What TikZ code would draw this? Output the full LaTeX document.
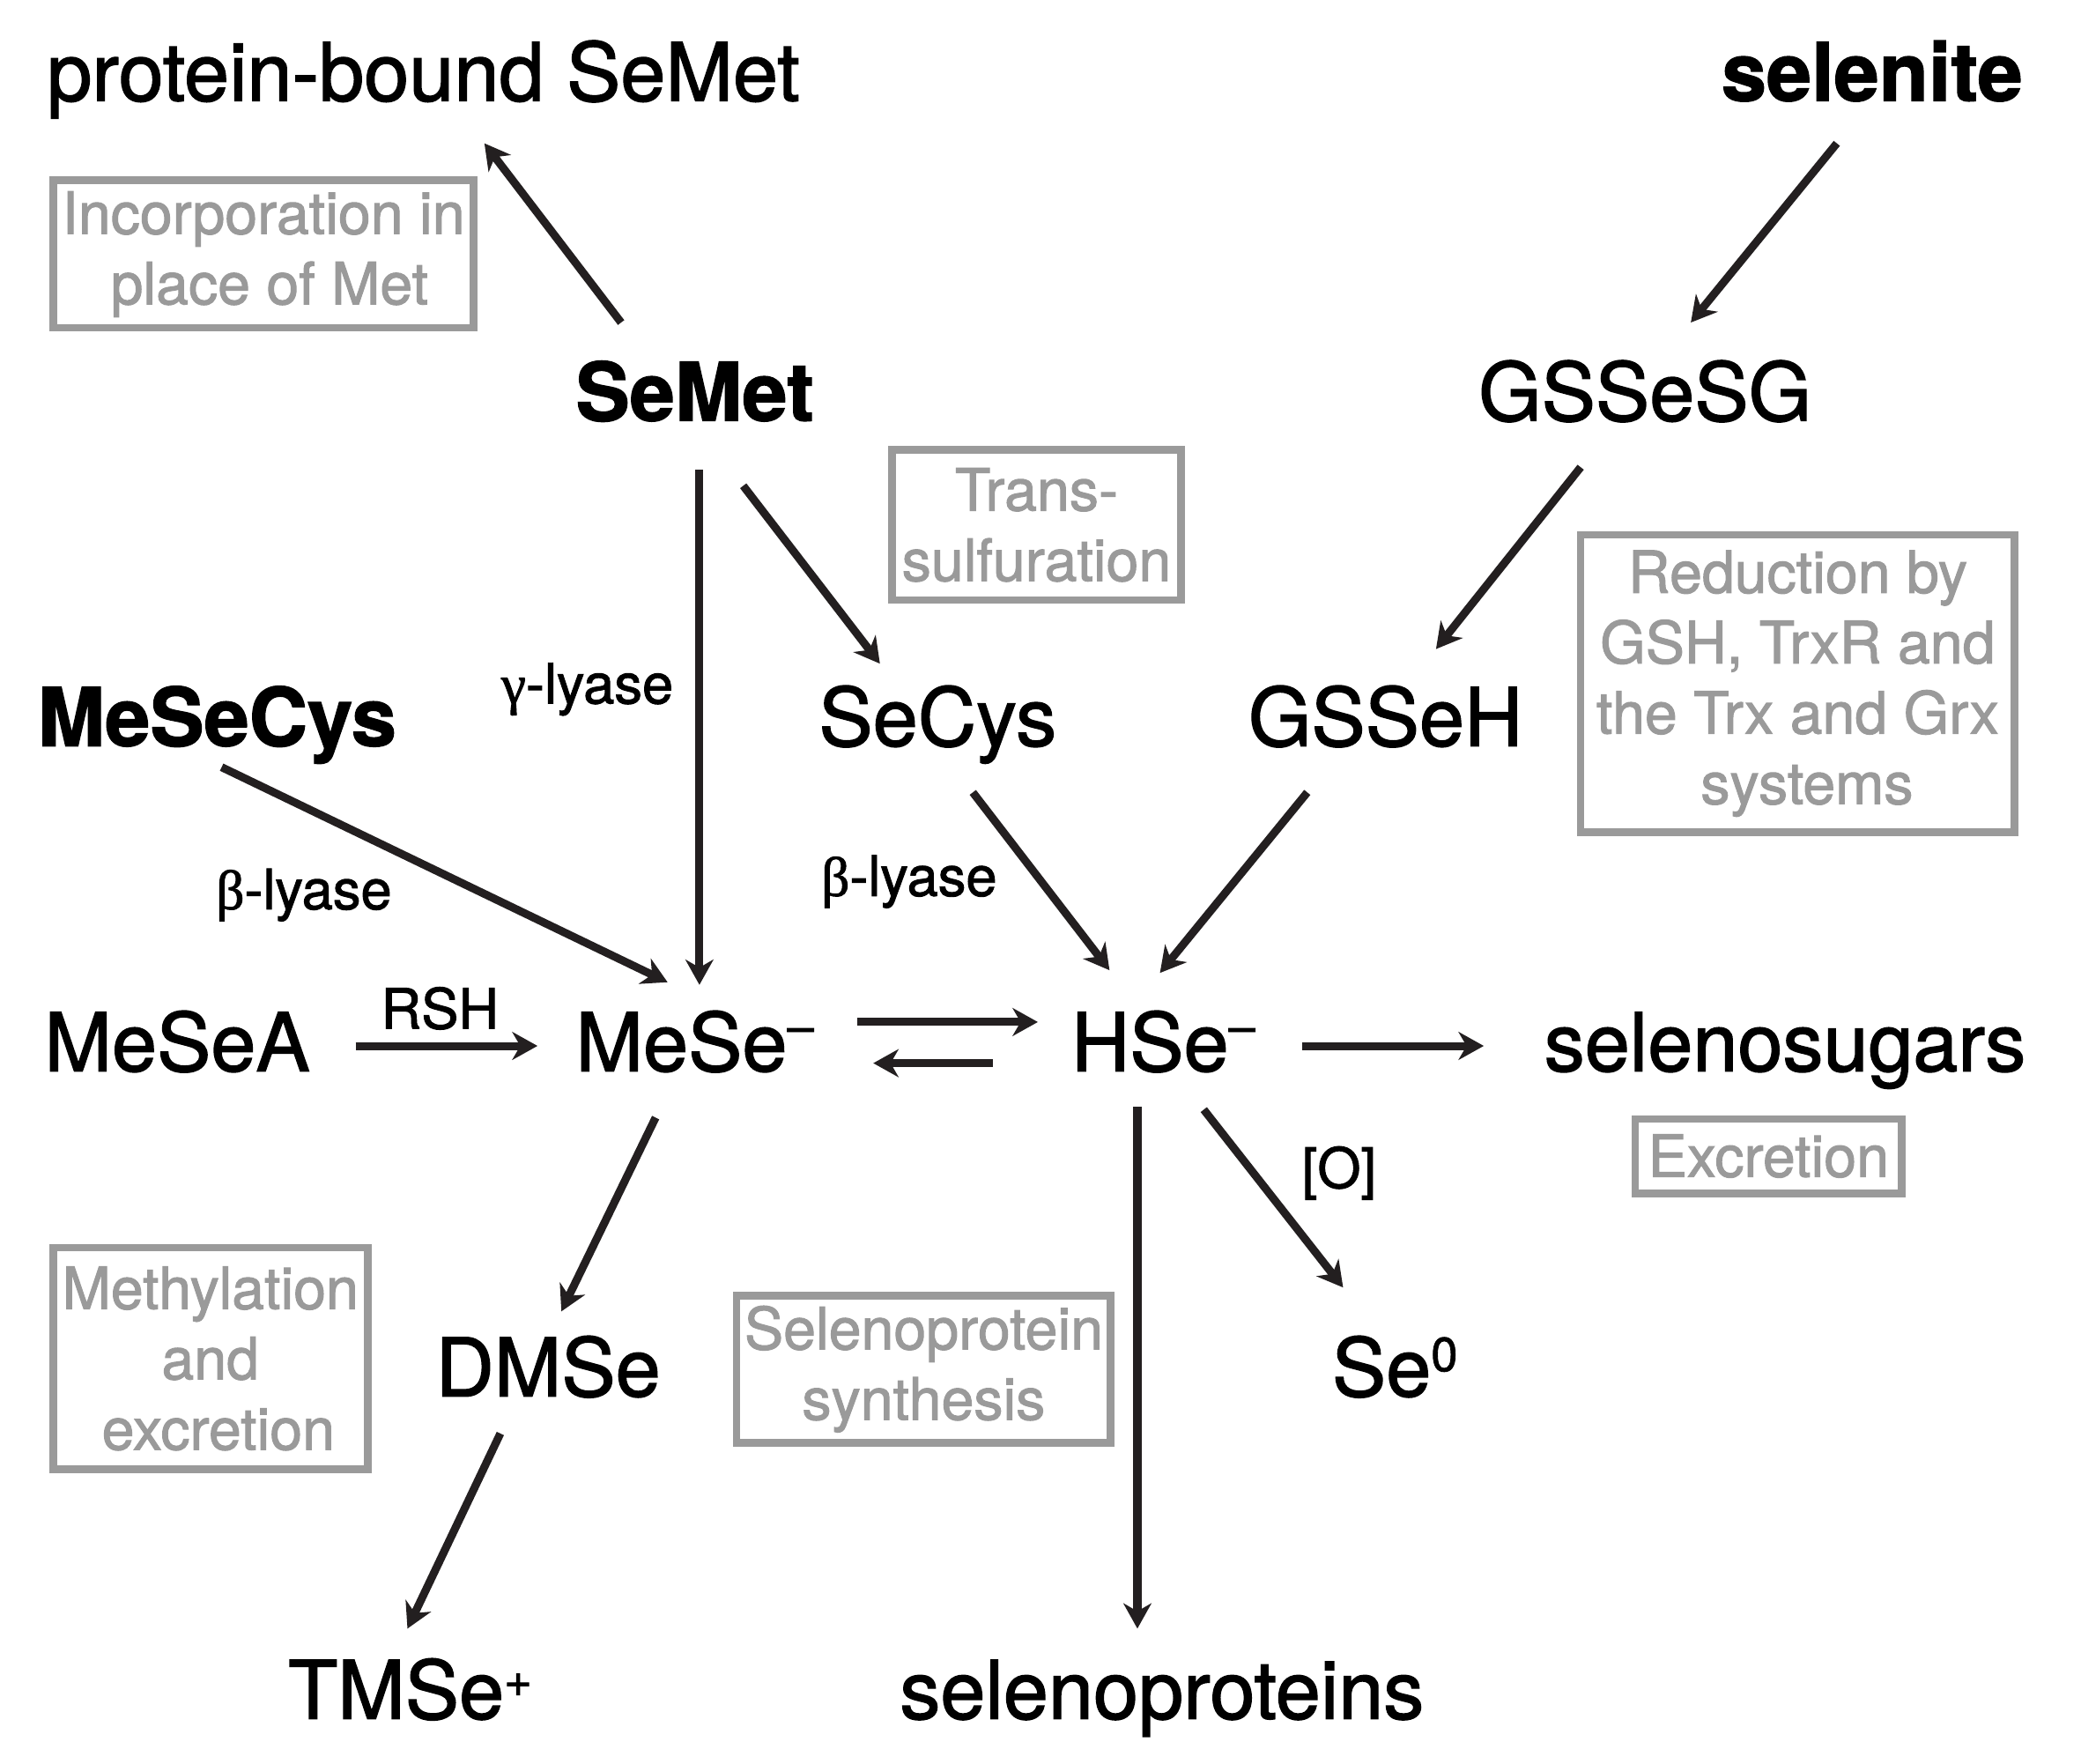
\documentclass[tikz,border=0pt]{standalone}
\usepackage{fontspec}
\setmainfont{TeX Gyre Heros}[FakeBold=1.5]
\newfontfamily\grkfont{Liberation Serif}[FakeBold=1.5]
\usepackage{tikz}
\usetikzlibrary{arrows.meta}

\definecolor{boxgray}{RGB}{154,154,154}
\definecolor{arrowblack}{RGB}{35,31,32}

\newcommand{\chg}[2]{\raisebox{#1}{\fontsize{36}{36}\selectfont #2}}

\tikzset{
  species/.style={inner sep=0pt, text height=44pt, text depth=0pt,
    font=\fontsize{61}{61}\selectfont},
  bold species/.style={species, font=\fontsize{61}{61}\selectfont\bfseries},
  enzyme/.style={inner sep=0pt, text height=30pt, text depth=0pt,
    font=\fontsize{42}{42}\selectfont},
  pathbox/.style={draw=boxgray, text=boxgray, line width=5.8pt, align=center,
    inner sep=0pt, font=\fontsize{44}{53}\selectfont},
  arr/.style={draw=arrowblack, line width=6pt,
    -{Stealth[length=19pt,width=21pt,inset=6pt]}},
}

\begin{document}
\begin{tikzpicture}[x=1pt,y=-1pt]
\useasboundingbox (0,0) rectangle (1568,1329);

% metabolites
\node[species] (pbsemet) at (319,54) {protein-bound SeMet};
\node[bold species] (selenite) at (1410.5,54) {selenite};
\node[bold species] (semet) at (523.5,295) {SeMet};
\node[species] (gssesg) at (1239.5,295) {GSSeSG};
\node[bold species] (mesecys) at (163.5,540) {MeSeCys};
\node[species] (secys) at (706.5,540) {SeCys};
\node[species] (gsseh) at (1044,540) {GSSeH};
\node[species] (mesea) at (133.5,785) {MeSeA};
\node[species] (mese) at (523.5,785) {MeSe\chg{21pt}{–}};
\node[species] (hse) at (876.5,785) {HSe\chg{21pt}{–}};
\node[species] (sugars) at (1345,785) {selenosugars};
\node[species] (dmse) at (413,1030) {DMSe};
\node[species] (sezero) at (1051,1030) {Se\chg{19pt}{0}};
\node[species] (tmse) at (309,1273) {TMSe\chg{17pt}{+}};
\node[species] (seprot) at (875.5,1273) {selenoproteins};

% pathway boxes
\node[pathbox, minimum width=317pt, minimum height=111pt] (incorp) at (198.5,191.5) {Incorporation in\\\hspace*{9pt}place of Met};
\node[pathbox, minimum width=218pt, minimum height=113pt] (transsulf) at (781,395.5) {Trans-\\sulfuration};
\node[pathbox, minimum width=327pt, minimum height=224pt] (reduction) at (1354.5,515) {Reduction by\\GSH, TrxR and\\the Trx and Grx\\\hspace*{14pt}systems};
\node[pathbox, minimum width=201pt, minimum height=56pt] (excretion) at (1332.5,871) {Excretion};
\node[pathbox, minimum width=237pt, minimum height=167pt] (methyl) at (158.5,1023.5) {Methylation\\and\\\hspace*{12pt}excretion};
\node[pathbox, minimum width=282pt, minimum height=111pt] (synth) at (696,1031.5) {Selenoprotein\\synthesis};

% enzymes and reagents
\node[enzyme] (gammalyase) at (442.5,515) {{\grkfont γ}-lyase};
\node[enzyme] (betalyaseA) at (229,670) {{\grkfont β}-lyase};
\node[enzyme] (betalyaseB) at (685,660) {{\grkfont β}-lyase};
\node[enzyme] (rsh) at (331.5,760) {RSH};
\node[enzyme] (oxid) at (1009,880) {[O]};

% reactions
\draw[arr] ([shift={(-55.5,-52)}]semet.center) -- ([shift={(46,54)}]pbsemet.center);
\draw[arr] ([shift={(-26.5,54)}]selenite.center) -- ([shift={(34.5,-52)}]gssesg.center);
\draw[arr] ([shift={(3.5,59)}]semet.center) -- ([shift={(3.5,-43)}]mese.center);
\draw[arr] ([shift={(36.5,71)}]semet.center) -- ([shift={(-43.5,-40)}]secys.center);
\draw[arr] ([shift={(-48.5,57)}]gssesg.center) -- ([shift={(38,-51)}]gsseh.center);
\draw[arr] ([shift={(3.5,38)}]mesecys.center) -- ([shift={(-20.5,-45)}]mese.center);
\draw[arr] ([shift={(26.5,57)}]secys.center) -- ([shift={(-40.5,-54)}]hse.center);
\draw[arr] ([shift={(-59,57)}]gsseh.center) -- ([shift={(-2.5,-52)}]hse.center);
\draw[arr] ([shift={(134.5,3)}]mesea.center) -- ([shift={(-118.5,3)}]mese.center);
\draw[arr] ([shift={(122.5,-15)}]mese.center) -- ([shift={(-94.5,-15)}]hse.center);
\draw[arr] ([shift={(-128.5,16)}]hse.center) -- ([shift={(134.5,16)}]mese.center);
\draw[arr] ([shift={(104.5,3)}]hse.center) -- ([shift={(-227,3)}]sugars.center);
\draw[arr] ([shift={(-29.5,57)}]mese.center) -- ([shift={(10,-42)}]dmse.center);
\draw[arr] ([shift={(-19.5,49)}]hse.center) -- ([shift={(-18.5,-46)}]seprot.center);
\draw[arr] ([shift={(30.5,51)}]hse.center) -- ([shift={(-39,-60)}]sezero.center);
\draw[arr] ([shift={(-36,50)}]dmse.center) -- ([shift={(-2,-46)}]tmse.center);
\end{tikzpicture}
\end{document}
